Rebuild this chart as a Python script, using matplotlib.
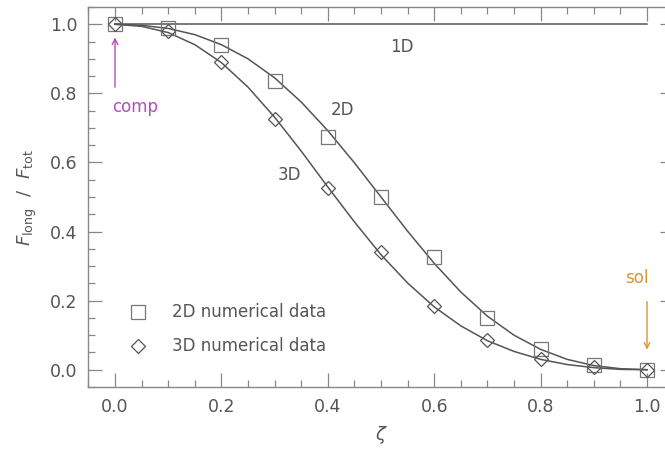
#!/usr/bin/env python3
"""Longitudinal forcing fraction versus the projection parameter zeta."""

import matplotlib
matplotlib.use('Agg')
import matplotlib.pyplot as plt
from matplotlib.ticker import MultipleLocator

# curves (step 0.05 in zeta)
zeta_curve = [0.00, 0.05, 0.10, 0.15, 0.20, 0.25, 0.30, 0.35, 0.40, 0.45, 0.50,
              0.55, 0.60, 0.65, 0.70, 0.75, 0.80, 0.85, 0.90, 0.95, 1.00]
curve_1d = [1.0] * 21
curve_2d = [1.000, 0.997, 0.988, 0.970, 0.941, 0.900, 0.845, 0.775, 0.692, 0.599, 0.500,
            0.401, 0.308, 0.225, 0.155, 0.100, 0.059, 0.030, 0.012, 0.003, 0.000]
curve_3d = [1.000, 0.994, 0.976, 0.941, 0.889, 0.818, 0.731, 0.633, 0.529, 0.428, 0.333,
            0.251, 0.182, 0.127, 0.084, 0.053, 0.030, 0.015, 0.006, 0.001, 0.000]

# numerical data points
zeta_data = [0.0, 0.1, 0.2, 0.3, 0.4, 0.5, 0.6, 0.7, 0.8, 0.9, 1.0]
data_2d = [1.0, 0.99, 0.94, 0.835, 0.675, 0.50, 0.325, 0.15, 0.06, 0.015, 0.0]
data_3d = [1.0, 0.98, 0.89, 0.725, 0.525, 0.34, 0.185, 0.085, 0.03, 0.007, 0.0]

ink = '#555555'
plt.rcParams['font.family'] = ['DejaVu Sans']

fig = plt.figure(figsize=(6.65, 4.51), dpi=100)
ax = fig.add_axes([88.4 / 665, 64 / 451, 585.2 / 665, 380 / 451])

ax.plot(zeta_curve, curve_1d, color=ink, lw=1.1)
ax.plot(zeta_curve, curve_2d, color=ink, lw=1.1)
ax.plot(zeta_curve, curve_3d, color=ink, lw=1.1)
ax.plot(zeta_data, data_2d, 's', ms=10, mfc='none', mec='#777777', mew=0.9)
ax.plot(zeta_data, data_3d, 'D', ms=7, mfc='none', mec='#555555', mew=0.9)

ax.text(0.54, 0.934, '1D', color=ink, fontsize=12, ha='center', va='center')
ax.text(0.427, 0.751, '2D', color=ink, fontsize=12, ha='center', va='center')
ax.text(0.327, 0.564, '3D', color=ink, fontsize=12, ha='center', va='center')

# legend drawn by hand like the IDL original
ax.plot([0.043], [0.168], 's', ms=10, mfc='none', mec='#777777', mew=0.9)
ax.plot([0.043], [0.069], 'D', ms=7, mfc='none', mec='#555555', mew=0.9)
ax.text(0.107, 0.168, '2D numerical data', color=ink, fontsize=12, va='center')
ax.text(0.107, 0.069, '3D numerical data', color=ink, fontsize=12, va='center')

purple = '#b050b8'
orange = '#d8953a'
ax.annotate('', xy=(0.0, 0.97), xytext=(0.0, 0.81),
            arrowprops=dict(arrowstyle='->', color=purple, lw=1.0))
ax.text(-0.005, 0.76, 'comp', color=purple, fontsize=12, ha='left', va='center')
ax.annotate('', xy=(1.0, 0.05), xytext=(1.0, 0.205),
            arrowprops=dict(arrowstyle='->', color=orange, lw=1.0))
ax.text(0.98, 0.265, 'sol', color=orange, fontsize=12, ha='center', va='center')

ax.set_xlim(-0.05, 1.05)
ax.set_ylim(-0.05, 1.05)
ax.xaxis.set_major_locator(MultipleLocator(0.2))
ax.xaxis.set_minor_locator(MultipleLocator(0.05))
ax.yaxis.set_major_locator(MultipleLocator(0.2))
ax.yaxis.set_minor_locator(MultipleLocator(0.05))
ax.xaxis.set_major_formatter(matplotlib.ticker.FormatStrFormatter('%.1f'))
ax.yaxis.set_major_formatter(matplotlib.ticker.FormatStrFormatter('%.1f'))
ax.tick_params(which='both', direction='in', top=True, right=True, colors='#888888',
               labelcolor=ink, labelsize=12.5, pad=8)
ax.tick_params(which='major', length=10, width=0.9)
ax.tick_params(which='minor', length=5, width=0.9)
for s in ax.spines.values():
    s.set_color('#888888')
    s.set_linewidth(1.0)

ax.set_xlabel(r'$\zeta$', color=ink, fontsize=13, labelpad=6)
ax.set_ylabel(r'$F_{\rm long}\ \ /\ \ F_{\rm tot}$', color=ink, fontsize=13, labelpad=8)

fig.savefig('out.png', dpi=100)
